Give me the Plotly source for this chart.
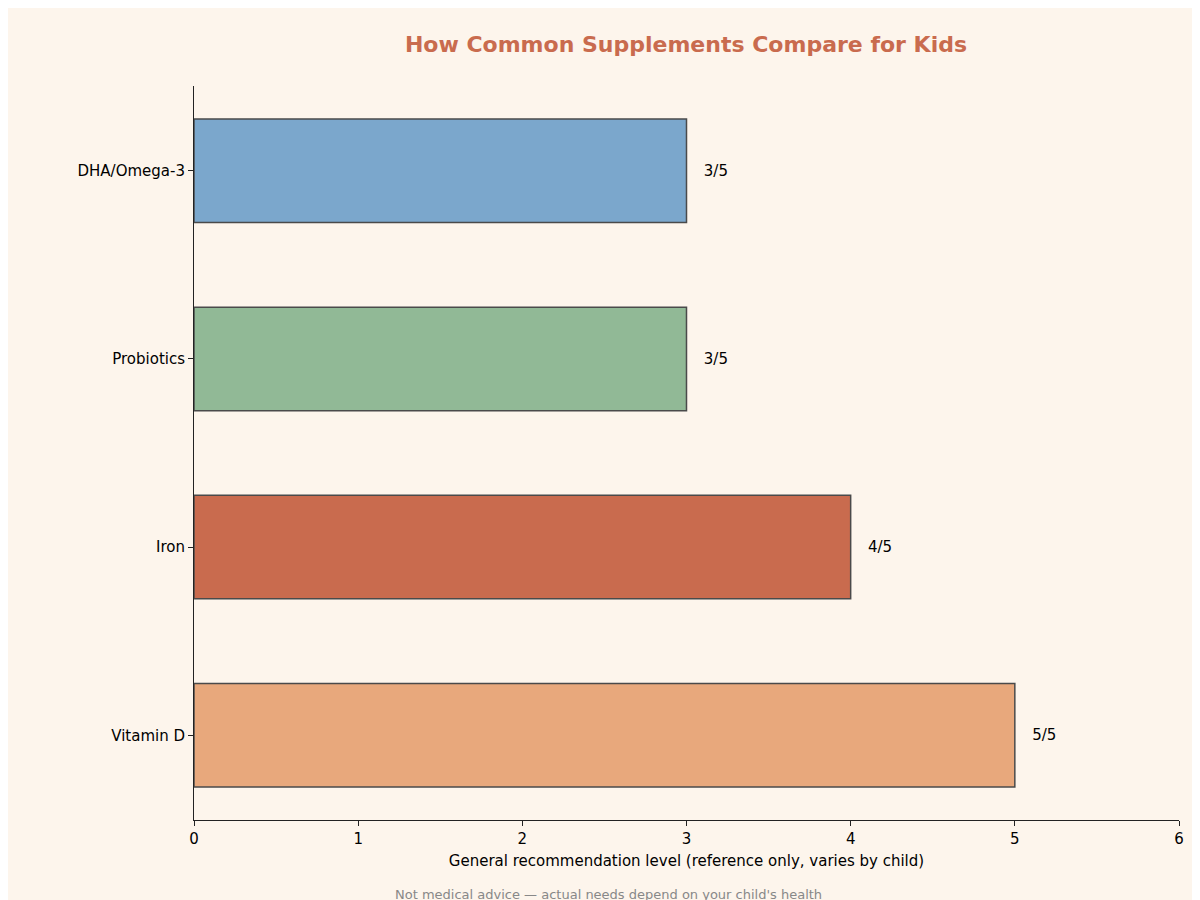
import plotly.graph_objects as go

categories = ["Vitamin D", "Iron", "Probiotics", "DHA/Omega-3"]
values = [5, 4, 3, 3]
labels = ["5/5", "4/5", "3/5", "3/5"]
colors = ["#E8A87C", "#C96B4E", "#91B996", "#7BA7CC"]

fig = go.Figure()
fig.add_trace(go.Bar(
    y=list(range(len(categories))), x=values, orientation="h", width=0.55,
    marker=dict(color=colors, line=dict(color="#4a4a4a", width=1.5)),
    text=labels, textposition="outside", textfont=dict(size=15, color="black"),
    cliponaxis=False, hoverinfo="skip"))
# offset labels slightly by padding spaces
fig.update_traces(texttemplate="   %{text}")
fig.update_layout(
    width=1200, height=900, paper_bgcolor="#FDF5EC", plot_bgcolor="#FDF5EC",
    margin=dict(l=186, r=29, t=78, b=88), showlegend=False,
    font=dict(family="DejaVu Sans", size=15, color="black"),
    title=dict(text="<b>How Common Supplements Compare for Kids</b>", x=0.565, xanchor="center",
               y=0.96, yanchor="middle", font=dict(size=22, color="#C96B4E", family="DejaVu Sans")),
    xaxis=dict(range=[0, 6], dtick=1, showgrid=False, zeroline=False, showline=True,
               linecolor="#222", ticks="outside", ticklen=5, tickcolor="#222",
               title=dict(text="General recommendation level (reference only, varies by child)",
                          standoff=8, font=dict(size=15))),
    yaxis=dict(range=[-0.45, 3.45], tickvals=list(range(len(categories))), ticktext=categories,
               showgrid=False, zeroline=False, showline=True, linecolor="#222",
               ticks="outside", ticklen=5, tickcolor="#222"),
    annotations=[dict(text="Not medical advice — actual needs depend on your child's health",
                      xref="paper", yref="paper", x=0.5, y=0, xanchor="center", yanchor="bottom",
                      showarrow=False, font=dict(size=13, color="#888888"))])
fig.update_layout(annotations=[dict(text="Not medical advice — actual needs depend on your child's health",
                      xref="paper", yref="paper", x=(600-186)/985, y=-(886-812)/734, xanchor="center",
                      yanchor="middle", showarrow=False, font=dict(size=13, color="#888888"))])
fig.write_html("out.html")
